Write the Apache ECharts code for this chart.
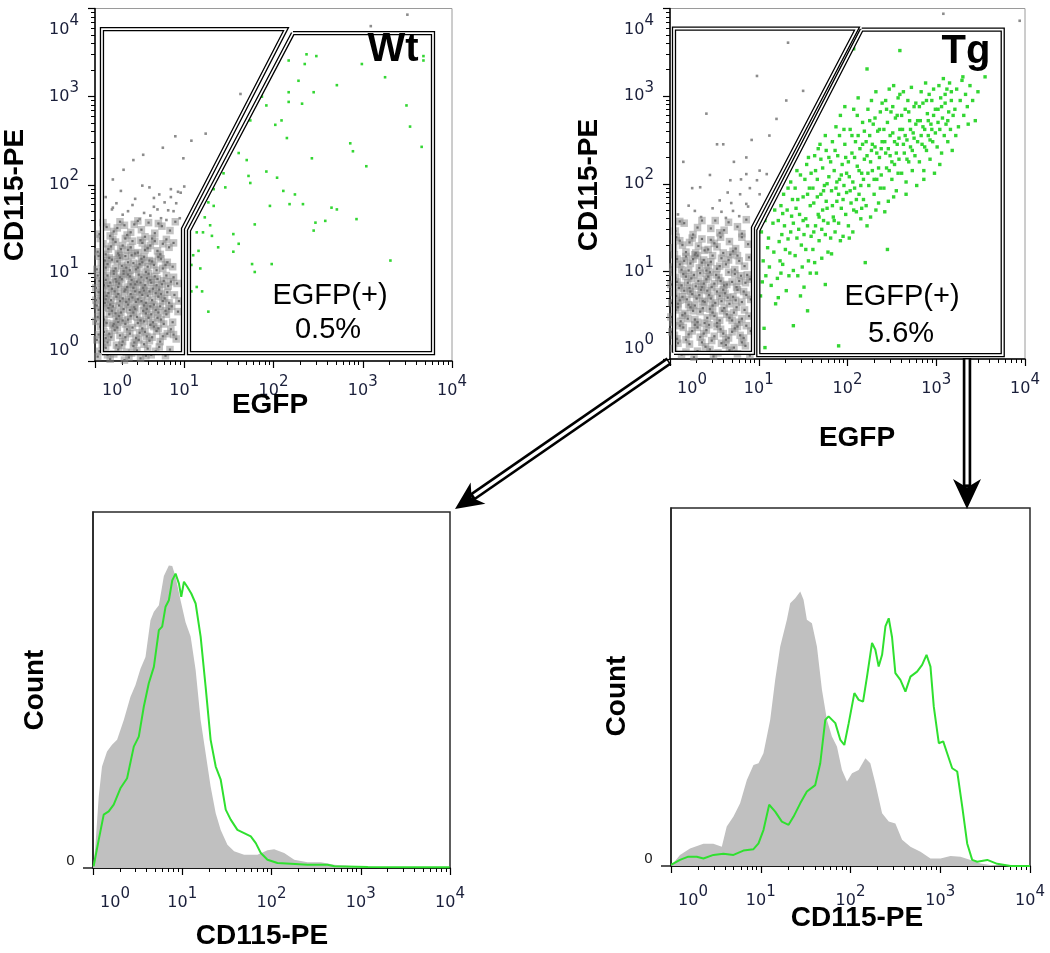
<!DOCTYPE html>
<html><head><meta charset="utf-8">
<script src="https://cdn.jsdelivr.net/npm/echarts@6/dist/echarts.min.js"></script>
<style>html,body{margin:0;padding:0;background:#fff}#c{width:1050px;height:953px}</style>
</head><body><div id="c"></div>
<script>
// ---------- axis decades (log10 units) ----------
const DECADES = [0, 1, 2, 3, 4];
const SUBDECADE = [2, 3, 4, 5, 6, 7, 8, 9];
const PANEL_LABELS = ['Wt', 'Tg'];
const GATE_LABEL = 'EGFP(+)';
const GATE_PCT = ['0.5%', '5.6%'];
const AXIS_TITLES = { egfp: 'EGFP', pe: 'CD115-PE', count: 'Count' };

// ---------- dot plots: [log10 EGFP, log10 CD115-PE] ----------
// dense EGFP(-) population (core) and its sparse tail
const WT_GRAY_CORE = [
[.03,.05],[.12,.15],[.21,.08],[.30,.18],[.38,.04],[.47,.12],[.55,.19],[.63,.07],[.72,.16],[.08,.19],[.17,.02],[.26,.13],[.35,.10],[.43,.17],[.51,.03],[.59,.14],[.68,.11],[.79,.06],[.05,.11],[.14,.07],[.24,.18],[.41,.09],[.57,.06],[.84,.13],[.33,.01],
[.02,.24],[.10,.33],[.18,.27],[.25,.38],[.31,.22],[.39,.31],[.46,.26],[.53,.37],[.61,.23],[.69,.34],[.76,.28],[.85,.36],[.06,.39],[.14,.21],[.22,.35],[.28,.29],[.36,.36],[.44,.21],[.50,.32],[.58,.28],[.66,.39],[.73,.22],[.81,.31],[.91,.25],[.04,.30],[.12,.26],[.20,.40],[.34,.27],[.42,.38],[.49,.24],[.56,.33],[.64,.27],[.71,.37],[.88,.30],[.16,.31],
[.01,.45],[.07,.52],[.13,.43],[.19,.57],[.24,.48],[.29,.55],[.34,.42],[.40,.51],[.45,.59],[.51,.46],[.57,.54],[.62,.41],[.68,.58],[.74,.47],[.80,.53],[.87,.44],[.93,.56],[.04,.58],[.10,.47],[.16,.53],[.21,.42],[.27,.51],[.32,.59],[.37,.47],[.43,.55],[.48,.43],[.54,.57],[.60,.49],[.65,.44],[.71,.55],[.77,.42],[.83,.59],[.03,.50],[.09,.41],[.15,.60],[.23,.54],[.31,.46],[.39,.58],[.47,.50],[.55,.45],[.63,.53],[.70,.49],[.79,.57],[.26,.44],[.58,.59],
[.02,.63],[.06,.71],[.11,.66],[.15,.77],[.20,.62],[.24,.73],[.28,.68],[.33,.79],[.37,.64],[.42,.72],[.46,.67],[.50,.78],[.55,.63],[.59,.74],[.64,.69],[.68,.77],[.73,.62],[.78,.71],[.83,.66],[.89,.75],[.94,.68],[.04,.78],[.09,.61],[.13,.74],[.18,.69],[.22,.79],[.27,.63],[.31,.71],[.35,.67],[.40,.76],[.44,.61],[.48,.70],[.53,.75],[.57,.66],[.61,.79],[.66,.64],[.71,.73],[.76,.68],[.81,.78],[.86,.62],[.01,.69],[.08,.75],[.17,.64],[.26,.76],[.38,.70],[.52,.68],[.62,.62],[.74,.76],[.12,.70],[.45,.79],
[.01,.83],[.05,.91],[.10,.86],[.14,.97],[.19,.82],[.23,.93],[.27,.88],[.32,.99],[.36,.84],[.41,.92],[.45,.87],[.49,.98],[.54,.83],[.58,.94],[.63,.89],[.67,.96],[.72,.81],[.77,.91],[.82,.85],[.88,.95],[.03,.97],[.08,.81],[.12,.92],[.17,.89],[.21,.99],[.26,.84],[.30,.93],[.34,.81],[.39,.96],[.43,.83],[.47,.90],[.52,.95],[.56,.86],[.60,.99],[.65,.82],[.70,.93],[.75,.87],[.80,.97],[.92,.88],[.15,.85],[.28,.95],[.40,.87],[.51,.89],[.62,.92],[.07,.88],[.24,.90],[.37,.98],[.55,.80],[.69,.86],[.85,.90],
[.02,1.04],[.07,1.12],[.12,1.06],[.16,1.17],[.21,1.02],[.25,1.13],[.30,1.08],[.34,1.19],[.39,1.03],[.43,1.11],[.48,1.06],[.52,1.16],[.57,1.01],[.61,1.14],[.66,1.09],[.71,1.18],[.76,1.05],[.81,1.12],[.87,1.07],[.04,1.19],[.09,1.01],[.14,1.10],[.19,1.15],[.23,1.05],[.28,1.17],[.32,1.02],[.37,1.12],[.41,1.20],[.46,1.04],[.50,1.10],[.55,1.18],[.59,1.07],[.64,1.13],[.69,1.03],[.74,1.16],[.79,1.09],[.11,1.14],[.35,1.06],[.53,1.12],[.27,1.20],
[.03,1.24],[.09,1.33],[.15,1.27],[.20,1.38],[.26,1.22],[.31,1.31],[.37,1.26],[.42,1.36],[.48,1.23],[.53,1.34],[.59,1.28],[.64,1.39],[.70,1.25],[.76,1.33],[.83,1.29],[.06,1.39],[.12,1.21],[.18,1.30],[.23,1.35],[.29,1.27],[.34,1.39],[.40,1.29],[.45,1.22],[.51,1.37],[.56,1.26],[.62,1.31],[.67,1.36],[.73,1.21],[.80,1.38],[.88,1.34],
[.05,1.44],[.13,1.52],[.21,1.47],[.28,1.58],[.36,1.43],[.44,1.55],[.52,1.49],[.60,1.57],[.67,1.45],[.75,1.53],[.84,1.48],[.09,1.57],[.17,1.42],[.25,1.51],[.33,1.54],[.40,1.46],[.48,1.59],[.56,1.41],[.71,1.56],[.90,1.58]
];
const WT_GRAY_SPARSE = [
[.08,1.64],[.19,1.72],[.31,1.66],[.42,1.77],[.55,1.68],[.66,1.75],[.74,1.62],[.82,1.71],[.91,1.79],[.24,1.79],[.50,1.61],[.37,1.70],
[.12,1.86],[.29,1.93],[.45,1.84],[.61,1.97],[.72,1.89],[.85,1.95],[.96,1.91],[.53,1.99],
[.62,1.65],[.70,1.72],[.78,1.80],[.85,1.86],[.93,1.92],[1.00,1.98],[.66,1.85],[.88,1.70],[.95,1.62],[.80,1.60],
[.20,2.06],[.54,2.34],[.76,2.42],[1.24,2.58],[1.60,2.70],[1.63,3.03],[.99,2.30],[1.08,2.50],[.90,2.55],[.43,2.28],[.32,2.17],[.20,1.74],[3.50,3.93],[3.09,3.80]
];
const WT_GREEN = [
[2.37,3.48],[2.48,3.46],[2.17,3.41],[2.35,3.37],[2.99,3.37],[3.68,3.46],[3.68,3.41],[3.25,3.22],[2.28,3.18],[2.71,3.13],[1.87,3.00],[1.92,2.90],[2.17,3.05],[2.45,3.05],[2.32,2.92],[2.17,2.94],[3.49,2.90],[3.53,2.66],[2.09,2.73],[2.02,2.68],[1.74,2.73],[2.15,2.53],[2.86,2.47],[2.89,2.38],[3.66,2.43],[1.61,2.36],[1.70,2.28],[2.43,2.30],[3.04,2.21],[1.44,2.13],[1.72,2.10],[1.92,2.15],[2.04,2.08],[2.11,1.93],[2.24,1.89],[1.74,2.02],[1.46,1.97],[1.33,1.95],[1.33,1.76],[1.27,1.80],[1.23,1.63],[1.29,1.54],[1.14,1.46],[1.21,1.46],[1.96,1.76],[2.18,1.78],[2.33,1.78],[2.65,1.74],[2.71,1.72],[2.47,1.57],[2.58,1.59],[2.45,1.48],[2.93,1.61],[1.55,1.44],[1.79,1.55],[1.31,1.42],[1.38,1.29],[1.55,1.24],[1.61,1.33],[1.16,1.25],[1.10,1.20],[1.08,1.09],[1.18,1.05],[1.76,1.10],[1.79,1.01],[1.98,1.10],[3.31,1.14],[1.05,0.92],[1.08,0.79],[1.14,0.84],[1.20,0.79],[1.27,0.56],[1.05,0.51]
];
const TG_GRAY_CORE = [
[.04,.12],[.13,.05],[.22,.17],[.31,.09],[.40,.14],[.49,.03],[.58,.18],[.67,.10],[.76,.06],[.85,.15],[.09,.18],[.18,.08],[.27,.02],[.36,.19],[.45,.11],[.54,.07],[.63,.16],[.72,.13],[.81,.19],[.90,.04],
[.02,.31],[.08,.23],[.15,.36],[.21,.28],[.28,.39],[.34,.25],[.41,.33],[.47,.21],[.53,.37],[.60,.29],[.66,.24],[.73,.35],[.79,.27],[.86,.38],[.05,.27],[.11,.38],[.18,.22],[.25,.32],[.31,.36],[.38,.29],[.44,.39],[.50,.26],[.57,.34],[.63,.22],[.70,.31],[.76,.37],[.83,.24],[.91,.32],
[.01,.48],[.06,.56],[.12,.43],[.17,.52],[.23,.59],[.28,.45],[.34,.54],[.39,.41],[.45,.57],[.50,.49],[.56,.44],[.61,.58],[.67,.47],[.72,.53],[.78,.42],[.84,.56],[.89,.49],[.03,.42],[.09,.59],[.14,.50],[.20,.46],[.26,.55],[.31,.42],[.37,.58],[.42,.47],[.48,.53],[.53,.41],[.59,.55],[.64,.51],[.70,.44],[.75,.59],[.81,.46],
[.02,.64],[.07,.72],[.11,.67],[.16,.78],[.21,.62],[.25,.74],[.30,.69],[.35,.79],[.39,.65],[.44,.73],[.48,.61],[.53,.77],[.58,.66],[.62,.75],[.67,.63],[.71,.71],[.76,.79],[.81,.65],[.86,.73],[.91,.68],[.04,.76],[.09,.63],[.14,.71],[.19,.68],[.23,.77],[.28,.61],[.33,.73],[.37,.66],[.42,.78],[.46,.69],[.51,.64],[.56,.72],[.60,.79],[.65,.70],[.74,.67],[.83,.77],
[.01,.85],[.06,.93],[.10,.81],[.15,.97],[.20,.87],[.24,.92],[.29,.83],[.34,.98],[.38,.86],[.43,.94],[.47,.82],[.52,.96],[.57,.89],[.61,.84],[.66,.99],[.70,.88],[.75,.82],[.80,.95],[.85,.87],[.90,.91],[.03,.99],[.08,.88],[.13,.84],[.18,.94],[.22,.81],[.27,.96],[.32,.89],[.36,.82],[.41,.91],[.45,.99],[.50,.86],[.55,.93],[.64,.85],[.73,.97],[.78,.89],[.87,.96],
[.03,1.05],[.08,1.14],[.13,1.02],[.18,1.17],[.23,1.09],[.28,1.19],[.33,1.04],[.38,1.13],[.43,1.07],[.48,1.18],[.53,1.03],[.58,1.15],[.63,1.08],[.68,1.19],[.73,1.02],[.78,1.12],[.84,1.06],[.89,1.16],[.05,1.19],[.11,1.08],[.16,1.12],[.21,1.01],[.26,1.14],[.31,1.18],[.41,1.01],[.46,1.11],[.56,1.06],[.66,1.13],[.76,1.18],[.36,1.10],
[.04,1.27],[.11,1.35],[.18,1.22],[.25,1.38],[.32,1.29],[.39,1.24],[.46,1.36],[.53,1.28],[.60,1.21],[.67,1.34],[.74,1.26],[.81,1.39],[.88,1.31],[.07,1.39],[.14,1.30],[.22,1.33],[.29,1.21],[.36,1.37],[.43,1.25],[.50,1.32],[.57,1.39],[.71,1.23],
[.06,1.46],[.16,1.55],[.26,1.42],[.36,1.58],[.46,1.49],[.56,1.44],[.66,1.56],[.76,1.51],[.86,1.59],[.11,1.57],[.31,1.50],[.51,1.58],[.61,1.47],[.81,1.43]
];
const TG_GRAY_SPARSE = [
[.09,1.65],[.21,1.75],[.35,1.62],[.48,1.72],[.58,1.68],[.69,1.78],[.78,1.63],[.88,1.74],[.28,1.69],[.63,1.61],
[.41,2.80],[1.33,3.61],[.98,3.23],[1.50,3.06],[1.31,2.95],[1.20,2.74],[.53,2.45],[.60,2.45],[.86,2.30],[1.01,2.15],[.86,2.11],[.98,2.04],[1.09,2.11],[1.01,1.88],[.68,2.04],[.79,1.88],[.56,1.81],[.34,1.96],[.86,1.77],[.71,1.69],[3.08,3.94],[3.94,3.86],[.15,2.25],[.25,1.95],[.45,2.10],[.72,2.25],[.92,2.50],[1.12,2.55],[.90,1.95],[.80,2.05],[.65,1.90]
];
const TG_GREEN = [
[1.02,0.72],[1.05,1.12],[1.08,0.95],[1.11,1.38],[1.14,0.84],[1.17,1.22],[1.03,1.45],[1.07,1.58],[1.12,1.05],[1.16,1.55],[1.19,0.63],[1.04,0.88],[1.10,1.27],[1.18,1.70],[1.06,0.35],
[1.21,0.92],[1.23,1.34],[1.25,1.75],[1.27,1.08],[1.29,1.52],[1.31,0.78],[1.33,1.95],[1.35,1.21],[1.37,1.63],[1.39,1.01],[1.22,1.58],[1.24,1.12],[1.26,1.42],[1.28,1.88],[1.30,1.25],[1.32,1.70],[1.34,0.95],[1.36,1.45],[1.38,1.82],[1.22,0.70],[1.27,1.66],[1.33,1.37],[1.39,1.55],[1.25,0.98],[1.36,2.02],
[1.41,1.18],[1.42,1.72],[1.44,0.95],[1.45,1.48],[1.47,2.10],[1.48,1.30],[1.50,1.85],[1.51,0.82],[1.53,1.60],[1.54,2.22],[1.56,1.12],[1.57,1.95],[1.59,1.40],[1.41,1.95],[1.43,1.38],[1.46,1.65],[1.49,1.05],[1.52,2.05],[1.55,1.52],[1.58,1.75],[1.43,2.15],[1.47,0.72],[1.50,1.58],[1.53,1.25],[1.56,2.30],[1.58,0.98],[1.44,1.82],[1.51,1.42],[1.55,1.88],[1.59,2.12],
[1.61,1.25],[1.62,1.78],[1.63,2.32],[1.64,1.52],[1.65,0.98],[1.66,2.05],[1.67,1.65],[1.68,1.35],[1.69,2.45],[1.70,1.88],[1.71,1.15],[1.72,2.18],[1.73,1.58],[1.74,1.98],[1.75,1.42],[1.76,2.38],[1.77,1.72],[1.78,1.22],[1.79,2.08],[1.61,1.95],[1.62,1.45],[1.64,2.15],[1.66,1.85],[1.68,1.62],[1.70,2.28],[1.71,1.48],[1.73,1.92],[1.75,2.55],[1.76,1.80],[1.78,1.55],[1.79,2.30],[1.63,1.10],[1.67,2.40],[1.72,1.70],[1.77,2.00],
[1.81,1.38],[1.82,1.92],[1.83,2.48],[1.84,1.62],[1.85,2.15],[1.86,1.45],[1.87,2.65],[1.88,1.80],[1.89,2.32],[1.90,1.55],[1.91,2.05],[1.92,2.78],[1.93,1.72],[1.94,2.22],[1.95,1.40],[1.96,1.98],[1.97,2.45],[1.98,1.65],[1.99,2.12],[1.81,2.25],[1.83,1.75],[1.85,1.58],[1.86,2.38],[1.88,2.02],[1.90,1.88],[1.91,2.55],[1.93,2.10],[1.95,1.82],[1.96,2.62],[1.98,2.30],[1.82,1.20],[1.87,1.95],[1.92,1.35],[1.97,2.88],[1.99,1.90],
[2.01,1.52],[2.02,2.08],[2.03,2.62],[2.04,1.78],[2.05,2.35],[2.06,1.45],[2.07,2.85],[2.08,1.95],[2.09,2.48],[2.10,1.68],[2.11,2.20],[2.12,2.98],[2.13,1.88],[2.14,2.40],[2.15,1.60],[2.16,2.12],[2.17,2.70],[2.18,1.82],[2.19,2.28],[2.01,2.25],[2.03,1.92],[2.05,2.55],[2.06,2.02],[2.08,2.30],[2.10,1.82],[2.12,2.55],[2.13,2.15],[2.15,1.98],[2.17,2.45],[2.18,2.05],[2.02,1.38],[2.07,1.70],[2.11,2.78],[2.16,1.72],[2.19,2.60],
[2.21,1.75],[2.22,2.32],[2.23,2.85],[2.24,1.98],[2.25,2.55],[2.26,1.62],[2.27,2.95],[2.28,2.15],[2.29,2.68],[2.30,1.88],[2.31,2.42],[2.32,3.05],[2.33,2.05],[2.34,2.60],[2.35,1.78],[2.36,2.30],[2.37,2.82],[2.38,2.10],[2.39,2.48],[2.21,2.48],[2.23,2.12],[2.25,2.72],[2.26,2.25],[2.28,2.45],[2.30,2.05],[2.31,2.75],[2.33,2.35],[2.35,2.18],[2.36,2.62],[2.38,2.40],[2.22,1.52],[2.27,2.38],[2.32,1.70],[2.37,1.95],[2.39,2.92],
[2.41,1.95],[2.42,2.48],[2.43,2.95],[2.44,2.18],[2.45,2.70],[2.46,1.80],[2.47,3.08],[2.48,2.32],[2.49,2.82],[2.50,2.05],[2.51,2.58],[2.52,3.12],[2.53,2.22],[2.54,2.75],[2.55,1.92],[2.56,2.45],[2.57,2.98],[2.58,2.28],[2.59,2.62],[2.41,2.62],[2.43,2.35],[2.44,2.85],[2.46,2.40],[2.48,2.55],[2.50,2.25],[2.51,2.88],[2.53,2.48],[2.55,2.35],[2.56,2.78],[2.58,2.52],[2.42,1.68],[2.47,2.15],[2.52,1.85],[2.57,2.12],[2.59,3.02],
[2.61,2.12],[2.62,2.62],[2.63,3.05],[2.64,2.35],[2.65,2.85],[2.66,2.02],[2.67,2.50],[2.68,2.95],[2.69,2.25],[2.70,2.72],[2.71,2.42],[2.72,3.10],[2.73,2.15],[2.74,2.58],[2.75,2.88],[2.76,2.32],[2.77,2.68],[2.78,1.98],[2.79,2.48],[2.61,2.78],[2.63,2.45],[2.65,2.55],[2.67,2.28],[2.69,2.82],[2.71,2.62],[2.73,2.38],[2.75,2.52],[2.77,2.92],[2.79,2.72],[2.66,1.88],
[2.81,2.25],[2.82,2.72],[2.83,3.05],[2.84,2.45],[2.85,2.92],[2.86,2.15],[2.87,2.62],[2.88,3.15],[2.89,2.38],[2.90,2.80],[2.91,2.55],[2.92,3.02],[2.93,2.28],[2.94,2.68],[2.95,2.95],[2.96,2.48],[2.97,2.78],[2.98,2.12],[2.99,2.58],[2.81,2.88],[2.83,2.55],[2.85,2.65],[2.87,2.42],[2.89,2.95],[2.91,2.72],[2.93,2.50],[2.95,2.62],[2.97,3.08],[2.99,2.85],[2.86,2.05],
[3.01,2.42],[3.02,2.85],[3.03,3.12],[3.04,2.62],[3.05,2.98],[3.06,2.35],[3.07,2.75],[3.08,3.20],[3.09,2.55],[3.10,2.92],[3.11,2.68],[3.12,3.08],[3.13,2.48],[3.14,2.82],[3.15,3.15],[3.16,2.62],[3.17,2.95],[3.18,2.38],[3.19,2.78],[3.02,2.70],[3.06,2.88],[3.10,3.02],[3.13,2.72],[3.17,3.05],[3.04,2.22],
[3.21,2.85],[3.23,3.08],[3.25,2.65],[3.27,2.95],[3.29,3.18],[3.31,2.78],[3.33,3.02],[3.35,2.88],[3.38,3.12],[3.41,2.95],[3.44,2.72],[3.47,3.05],[3.22,2.55],[3.30,3.22],[3.36,2.68],
[1.07,0.13],[1.39,0.38],[1.90,0.15],[1.55,0.55],[1.75,0.85],[2.20,1.10],[2.59,3.52],[2.07,3.54],[2.22,3.31],[3.55,3.22],[2.45,1.25]
];

// ---------- gates (polygon vertices, log10 units) ----------
const WT_GATE_NEG = [[.078,.09],[.078,3.765],[2.14,3.765],[.986,1.50],[.986,.09],[.078,.09]];
const WT_GATE_POS = [[2.218,3.72],[3.787,3.72],[3.787,.09],[1.053,.09],[1.053,1.48],[2.218,3.72]];
const TG_GATE_NEG = [[.045,.07],[.045,3.77],[2.107,3.77],[.935,1.50],[.935,.07],[.045,.07]];
const TG_GATE_POS = [[2.16,3.76],[3.749,3.76],[3.749,.045],[.995,.045],[.995,1.466],[2.16,3.76]];

// ---------- histograms: x = log10 CD115-PE, y = count (% of panel height) ----------
const WT_CTRL_X = [0,.026,.064,.101,.157,.213,.270,.345,.419,.476,.532,.588,.644,.682,.738,.794,.850,.888,.925,.981,1.037,1.094,1.150,1.206,1.262,1.318,1.375,1.431,1.506,1.581,1.693,1.843,1.955,2.030,2.142,2.255,2.404,2.554,2.704,2.929,3.266,4.0];
const WT_CTRL_Y = [0,6,20,28.5,32.7,34.6,36,41.6,48,51.4,56,59.3,69.6,72,73.8,82,85,84.8,81.8,75.2,69,65,55.6,41.6,32.2,22.9,15.4,10.7,6.5,4.7,3.7,3.7,5,5.3,4.2,2.3,1.6,1.6,0.9,0.5,0.2,0];
const WT_EGFP_X = [.007,.064,.120,.176,.232,.307,.382,.457,.513,.569,.625,.682,.738,.775,.813,.850,.888,.925,.963,.989,1.019,1.056,1.101,1.150,1.206,1.262,1.318,1.375,1.431,1.487,1.543,1.618,1.693,1.768,1.824,1.880,1.955,2.067,2.217,2.404,2.629,2.704,3.079,3.996];
const WT_EGFP_Y = [.5,7.9,15,15.9,17.8,22.4,25.2,34.1,36.9,45.3,51.9,56.5,66.8,67.8,73.4,75.2,80.8,82.7,79.9,76.2,80.4,79,77.1,74.3,65,50.9,36,28.5,24.8,16.4,13.6,10.7,9.8,8.9,7,4.2,2.3,1.4,1.2,.9,.9,.5,.3,.2];
const TG_CTRL_X = [0,.100,.212,.361,.472,.566,.621,.696,.770,.845,.919,.975,1.030,1.105,1.161,1.217,1.291,1.328,1.384,1.440,1.477,1.514,1.570,1.626,1.682,1.738,1.793,1.849,1.905,1.961,2.017,2.091,2.166,2.221,2.277,2.352,2.426,2.500,2.575,2.668,2.780,2.891,3.003,3.114,3.226,3.338,3.449,3.561,4.0];
const TG_CTRL_Y = [0,3.1,4.9,6.2,6.2,5.4,11,13.8,17.5,24,28.2,28.7,31.5,40.8,52,61.3,68.8,73.4,74.8,76.7,74.4,68.8,67.8,61.3,49.2,40.8,36.2,33.4,26.8,23.6,25.9,26.8,30.1,28.7,23.1,14.7,12.4,11.9,7.3,5.4,4.0,2.1,2.1,2.8,2.6,1.7,0.7,0.3,0];
const TG_EGFP_X = [0,.100,.193,.287,.361,.473,.584,.696,.807,.919,.975,1.031,1.094,1.161,1.235,1.310,1.366,1.440,1.514,1.607,1.663,1.719,1.756,1.831,1.887,1.931,1.980,2.043,2.091,2.140,2.184,2.240,2.277,2.314,2.352,2.389,2.426,2.463,2.500,2.556,2.612,2.668,2.742,2.798,2.847,2.891,2.928,2.984,3.033,3.077,3.133,3.189,3.245,3.300,3.356,3.412,3.524,3.635,3.784,4.0];
const TG_EGFP_Y = [.3,1.7,2.6,2.6,2.1,3.1,3.4,3.1,4.3,4.7,6.3,10.1,17.1,15.2,12.4,11.5,13.8,17.5,20.8,22.6,28.7,40.8,41.8,39.9,35.2,33.8,39.9,48.3,46.4,45.9,52.9,62.3,60.4,55.7,59,66.9,69.2,63.9,53.9,52,48.7,52.9,54.3,56.2,59,55.7,44.5,34.3,34.8,31.5,27.3,26.4,16.6,6.3,1.7,1.2,1.7,.6,0,0];

// ---------- styling ----------
const LBL = '#1a1f3a';
const TITLE_FONT = '"Liberation Sans", Arial, sans-serif';
const GRAY = '#888888', GREEN = '#33d633', FILL = '#c0c0c0', LINEGREEN = '#2fe02f';
const MINOR = [];
DECADES.slice(0, -1).forEach(d => SUBDECADE.forEach(k => MINOR.push(d + Math.log10(k))));

const RICH = {
  b: {fontFamily: 'DejaVu Sans', fontSize: 16, lineHeight: 16, color: LBL, verticalAlign: 'bottom'},
  s: {fontFamily: 'DejaVu Sans', fontSize: 15, lineHeight: 15, color: LBL, verticalAlign: 'bottom', padding: [0, 0, 9, 0]},
  gap: {width: 44, fontSize: 1, lineHeight: 1},
  sp: {fontSize: 1, lineHeight: 42},
  sp2: {fontSize: 1, lineHeight: 20}
};
const xFmt = v => { const e = Math.round(v); return (e === 0 ? '{gap| }' : '') + '{b|10}{s|' + e + '}'; };
const yFmt = v => { const e = Math.round(v); const s = '{b|10}{s|' + e + '}';
  if (e === 4) return '{sp| }\n' + s; if (e === 0) return s + '\n{sp2| }'; return s; };

function majorX(g, margin) {
  return {type: 'value', gridIndex: g, min: 0, max: 4, interval: 1, position: 'bottom',
    axisLine: {show: true, onZero: false, lineStyle: {color: '#000', width: 1.5}},
    axisTick: {show: true, length: 7, lineStyle: {color: '#000', width: 1.2}},
    axisLabel: {margin, formatter: xFmt, rich: RICH, showMinLabel: true, showMaxLabel: true},
    splitLine: {show: false}};
}
function minorX(g) {
  return {type: 'value', gridIndex: g, min: 0, max: 4, interval: 1, position: 'bottom',
    axisLine: {show: false, onZero: false},
    axisTick: {show: true, length: 4, customValues: MINOR, lineStyle: {color: '#000', width: 1}},
    axisLabel: {show: false}, splitLine: {show: false}};
}
function majorY(g) {
  return {type: 'value', gridIndex: g, min: 0, max: 4, interval: 1, position: 'left',
    axisLine: {show: true, onZero: false, lineStyle: {color: '#000', width: 1.5}},
    axisTick: {show: true, length: 7, lineStyle: {color: '#000', width: 1.2}},
    axisLabel: {margin: 16, formatter: yFmt, rich: RICH, showMinLabel: true, showMaxLabel: true},
    splitLine: {show: false}};
}
function minorY(g) {
  return {type: 'value', gridIndex: g, min: 0, max: 4, interval: 1, position: 'left',
    axisLine: {show: false, onZero: false},
    axisTick: {show: true, length: 4, customValues: MINOR, lineStyle: {color: '#000', width: 1}},
    axisLabel: {show: false}, splitLine: {show: false}};
}
function countY(g) {
  return {type: 'value', gridIndex: g, min: 0, max: 100, interval: 100, position: 'left',
    axisLine: {show: true, onZero: false, lineStyle: {color: '#222', width: 1.5}},
    axisTick: {show: true, length: 10, customValues: [0], lineStyle: {color: '#222', width: 1.5}},
    axisLabel: {customValues: [0], margin: 18, formatter: v => (v === 0 ? '0' : ''), fontFamily: 'DejaVu Sans',
      fontSize: 14, color: '#222', verticalAlign: 'bottom'},
    splitLine: {show: false}};
}
const zip = (xs, ys) => xs.map((x, i) => [x, ys[i]]);
function dots(data, xi, yi, color, size, z, opacity) {
  return {type: 'scatter', xAxisIndex: xi, yAxisIndex: yi, data, symbol: 'rect', symbolSize: size,
    itemStyle: {color, opacity: opacity == null ? 1 : opacity}, z, silent: true, clip: true};
}
// dense cloud: each event drawn as a faint pixel block plus a solid dot, so overlaps build up density
function cloud(data, xi, yi) {
  return [dots(data, xi, yi, GRAY, 7.5, 1, 0.5), dots(data, xi, yi, '#6e6e6e', 2.2, 2, 1)];
}
function gate(data, xi, yi) {
  return [
    {type: 'line', xAxisIndex: xi, yAxisIndex: yi, data, symbol: 'none', z: 5, silent: true, clip: false,
      lineStyle: {color: '#000', width: 4.3, join: 'miter'}},
    {type: 'line', xAxisIndex: xi, yAxisIndex: yi, data, symbol: 'none', z: 6, silent: true, clip: false,
      lineStyle: {color: '#fff', width: 1.7, join: 'miter'}}
  ];
}
function hist(xs, ys, xi, yi, filled) {
  return filled
    ? {type: 'line', xAxisIndex: xi, yAxisIndex: yi, data: zip(xs, ys), symbol: 'none', z: 2, silent: true,
        lineStyle: {width: 0, color: FILL}, areaStyle: {color: FILL, opacity: 1}}
    : {type: 'line', xAxisIndex: xi, yAxisIndex: yi, data: zip(xs, ys), symbol: 'none', z: 3, silent: true,
        lineStyle: {width: 2, color: LINEGREEN}};
}
function txt(text, x, y, font, rot) {
  return {type: 'text', x, y, rotation: rot || 0, z: 100, silent: true,
    style: {text, font, fill: '#000', align: 'center', verticalAlign: 'middle'}};
}
function arrow(x1, y1, x2, y2, head, half) {
  const L = Math.hypot(x2 - x1, y2 - y1), ux = (x2 - x1) / L, uy = (y2 - y1) / L;
  const bx = x2 - ux * head, by = y2 - uy * head, px = -uy, py = ux;
  const nx = x2 - ux * head * 0.72, ny = y2 - uy * head * 0.72;
  return [
    {type: 'line', z: 50, silent: true, shape: {x1, y1, x2: nx, y2: ny}, style: {stroke: '#000', lineWidth: 8.5}},
    {type: 'line', z: 51, silent: true, shape: {x1: x1 + ux * 1.5, y1: y1 + uy * 1.5, x2: nx - ux * 3, y2: ny - uy * 3}, style: {stroke: '#fff', lineWidth: 3.2}},
    {type: 'polygon', z: 52, silent: true, shape: {points: [[x2, y2], [bx + px * half, by + py * half], [nx, ny], [bx - px * half, by - py * half]]}, style: {fill: '#000'}}
  ];
}

const chart = echarts.init(document.getElementById('c'), null, {renderer: 'canvas'});
chart.setOption({
  animation: false,
  backgroundColor: '#fff',
  grid: [
    {left: 95, top: 4, width: 357, height: 357, show: true, borderColor: '#9a9a9a', borderWidth: 1},
    {left: 670, top: 7, width: 355, height: 352, show: true, borderColor: '#9a9a9a', borderWidth: 1},
    {left: 93, top: 512, width: 357, height: 356, show: true, borderColor: '#2a2a2a', borderWidth: 1.5},
    {left: 671, top: 508, width: 359, height: 358, show: true, borderColor: '#2a2a2a', borderWidth: 1.5}
  ],
  xAxis: [majorX(0, 22), minorX(0), majorX(1, 22), minorX(1), majorX(2, 27), minorX(2), majorX(3, 27), minorX(3)],
  yAxis: [majorY(0), minorY(0), majorY(1), minorY(1), countY(2), countY(3)],
  series: [
    ...cloud(WT_GRAY_CORE, 0, 0),
    dots(WT_GRAY_SPARSE, 0, 0, '#8c8c8c', 2.6, 2),
    dots(WT_GREEN, 0, 0, GREEN, 2.6, 3),
    ...gate(WT_GATE_NEG, 0, 0), ...gate(WT_GATE_POS, 0, 0),
    ...cloud(TG_GRAY_CORE, 2, 2),
    dots(TG_GRAY_SPARSE, 2, 2, '#8c8c8c', 2.6, 2),
    dots(TG_GREEN, 2, 2, GREEN, 3.4, 3),
    ...gate(TG_GATE_NEG, 2, 2), ...gate(TG_GATE_POS, 2, 2),
    hist(WT_CTRL_X, WT_CTRL_Y, 4, 4, true),
    hist(WT_EGFP_X, WT_EGFP_Y, 4, 4, false),
    hist(TG_CTRL_X, TG_CTRL_Y, 6, 5, true),
    hist(TG_EGFP_X, TG_EGFP_Y, 6, 5, false)
  ],
  graphic: [
    txt(PANEL_LABELS[0], 393, 50, 'bold 40px ' + TITLE_FONT),
    txt(PANEL_LABELS[1], 966, 52, 'bold 40px ' + TITLE_FONT),
    txt(GATE_LABEL, 330, 296, '29px ' + TITLE_FONT),
    txt(GATE_PCT[0], 328, 330, '29px ' + TITLE_FONT),
    txt(GATE_LABEL, 902, 297, '29px ' + TITLE_FONT),
    txt(GATE_PCT[1], 901, 334, '29px ' + TITLE_FONT),
    txt(AXIS_TITLES.pe, 15, 195, 'bold 28px ' + TITLE_FONT, Math.PI / 2),
    txt(AXIS_TITLES.pe, 589, 185, 'bold 28px ' + TITLE_FONT, Math.PI / 2),
    txt(AXIS_TITLES.egfp, 270, 405, 'bold 28px ' + TITLE_FONT),
    txt(AXIS_TITLES.egfp, 857, 438, 'bold 28px ' + TITLE_FONT),
    txt(AXIS_TITLES.count, 35, 690, 'bold 28px ' + TITLE_FONT, Math.PI / 2),
    txt(AXIS_TITLES.count, 617, 696, 'bold 28px ' + TITLE_FONT, Math.PI / 2),
    txt(AXIS_TITLES.pe, 262, 936, 'bold 28px ' + TITLE_FONT),
    txt(AXIS_TITLES.pe, 857, 918, 'bold 28px ' + TITLE_FONT),
    ...arrow(669, 361, 455, 509, 28, 13),
    ...arrow(967, 358, 967, 509, 30, 14)
  ]
});
</script></body></html>
